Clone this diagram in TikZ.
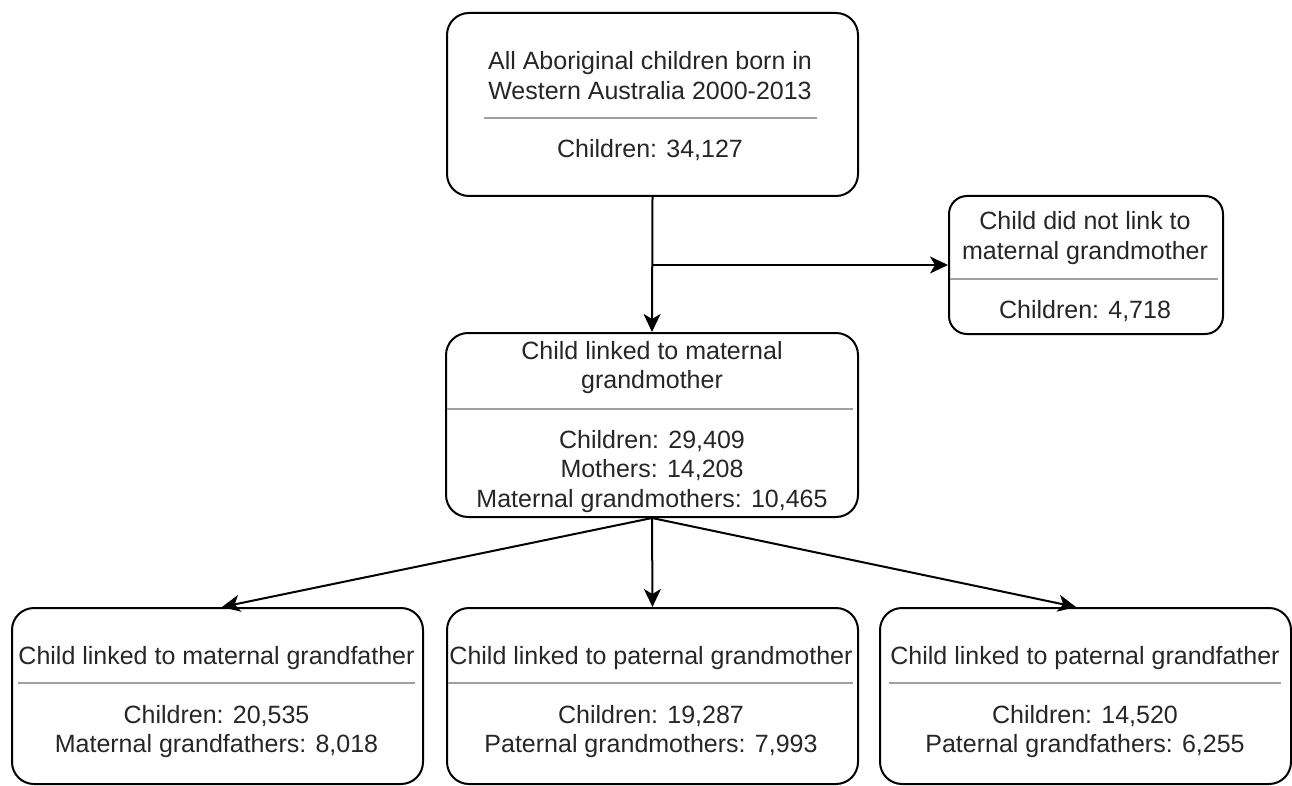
\documentclass[tikz,border=0pt]{standalone}
\usepackage{fontspec}
\setmainfont{Liberation Sans}
\usetikzlibrary{arrows.meta}
\definecolor{txt}{HTML}{262626}
\definecolor{sepc}{HTML}{A0A0A0}
\begin{document}
\begin{tikzpicture}[x=1pt,y=-1pt,
  box/.style={draw=black, line width=2pt, rounded corners=22pt, inner sep=0pt, fill=white},
  lbl/.style={anchor=base, inner sep=0pt, text=txt, font=\fontsize{25}{30}\selectfont},
  sepline/.style={draw=sepc, line width=1.5pt},
  conn/.style={draw=black, line width=2pt, -{Stealth[length=18pt,width=17pt,inset=5pt]}}]
\useasboundingbox (0,0) rectangle (1292,786);

% boxes
\node[box, minimum width=411pt, minimum height=183pt] (top) at (652.5,104.5) {};
\node[box, rounded corners=18pt, minimum width=274pt, minimum height=138pt] (right) at (1086,265) {};
\node[box, minimum width=412pt, minimum height=184pt] (mid) at (652,425) {};
\node[box, minimum width=411pt, minimum height=176pt] (bl) at (217.5,696) {};
\node[box, minimum width=411pt, minimum height=176pt] (bm) at (652.5,696) {};
\node[box, minimum width=411pt, minimum height=176pt] (br) at (1085.5,696) {};

% separators
\draw[sepline] (484,118) -- (817,118);
\draw[sepline] (950,279) -- (1218,279);
\draw[sepline] (447,409) -- (853,409);
\draw[sepline] (18,683) -- (415,683);
\draw[sepline] (448,683) -- (853,683);
\draw[sepline] (889,683) -- (1281,683);

% texts
\node[lbl] (t1) at (650,70) {All Aboriginal children born in};
\node[lbl] (t2) at (650,100) {Western Australia 2000-2013};
\node[lbl] (t3) at (650,158) {Children: 34,127};

\node[lbl] (r1) at (1085,230) {Child did not link to};
\node[lbl] (r2) at (1085,259) {maternal grandmother};
\node[lbl] (r3) at (1085,318) {Children: 4,718};

\node[lbl] (m1) at (652,359) {Child linked to maternal};
\node[lbl] (m2) at (652,388) {grandmother};
\node[lbl] (m3) at (652,448) {Children: 29,409};
\node[lbl] (m4) at (652,477) {Mothers: 14,208};
\node[lbl] (m5) at (652,507) {Maternal grandmothers: 10,465};

\node[lbl] (a1) at (216.5,664) {Child linked to maternal grandfather};
\node[lbl] (a2) at (216.5,723) {Children: 20,535};
\node[lbl] (a3) at (216.5,752) {Maternal grandfathers: 8,018};

\node[lbl] (b1) at (651,664) {Child linked to paternal grandmother};
\node[lbl] (b2) at (651,723) {Children: 19,287};
\node[lbl] (b3) at (651,752) {Paternal grandmothers: 7,993};

\node[lbl] (c1) at (1085,664) {Child linked to paternal grandfather};
\node[lbl] (c2) at (1085,723) {Children: 14,520};
\node[lbl] (c3) at (1085,752) {Paternal grandfathers: 6,255};

% connectors
\coordinate (j) at (top.south |- right.west);
\draw[conn] (top.south) -- (mid.north);
\draw[conn] (j) -- (right.west);
\draw[conn] (mid.south) -- ([xshift=4.5pt]bl.north);
\draw[conn] (mid.south) -- (bm.north);
\draw[conn] (mid.south) -- ([xshift=-9.5pt]br.north);
\end{tikzpicture}
\end{document}
